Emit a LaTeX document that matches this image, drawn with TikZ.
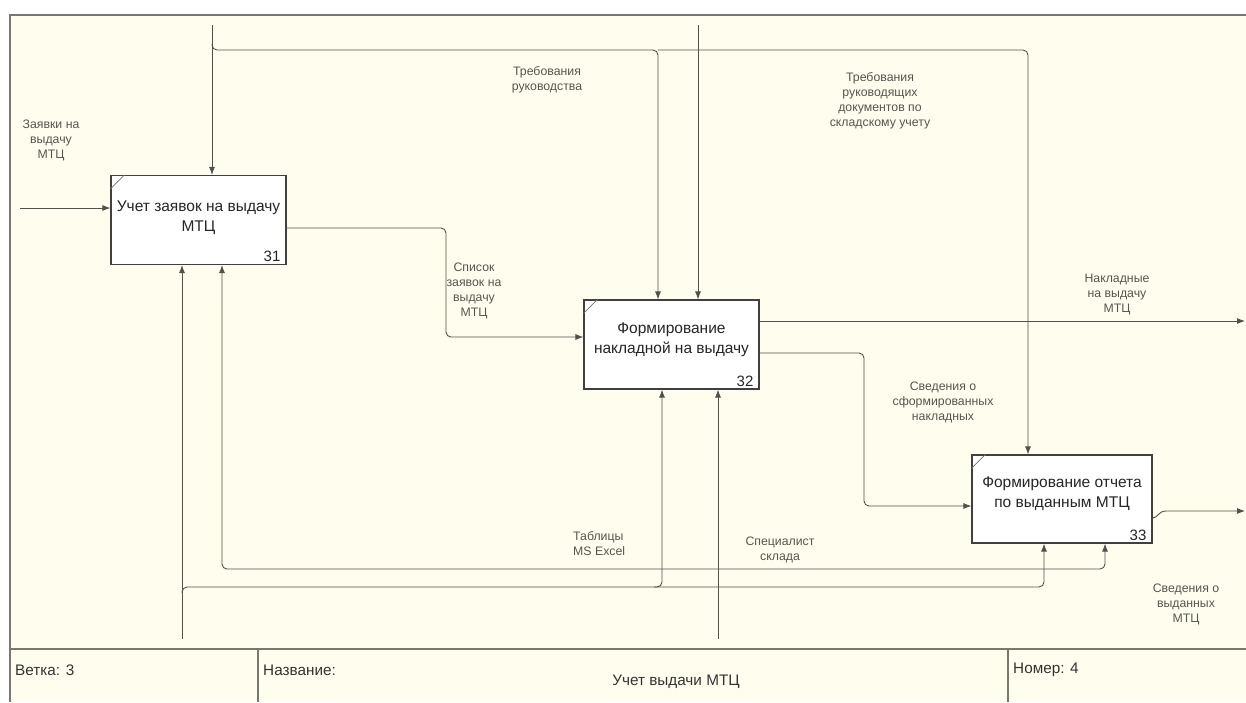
\documentclass[tikz,border=0pt]{standalone}
\usepackage{fontspec}
\setmainfont{Liberation Sans}
\usetikzlibrary{arrows.meta}
\definecolor{cream}{RGB}{255,254,238}
\definecolor{ln}{RGB}{80,80,76}
\definecolor{frm}{RGB}{120,120,110}
\definecolor{lbl}{RGB}{85,85,80}
\begin{document}
\begin{tikzpicture}[x=1pt,y=-1pt,
  conn/.style={draw=ln, line width=0.9pt},
  arr/.style={conn, -{Latex[length=8pt,width=6pt]}},
  rc/.style={rounded corners=5pt},
  box/.style={draw=black!75, fill=white, line width=1.1pt, minimum width=#1, minimum height=89pt, inner sep=0pt},
  btext/.style={align=center, text=black!85, font=\fontsize{15.5}{20}\selectfont, inner sep=0pt},
  num/.style={text=black!85, font=\fontsize{15}{16}\selectfont, inner sep=0pt, anchor=south east},
  lab/.style={align=center, text=lbl, font=\fontsize{12.3}{15}\selectfont, inner sep=0pt},
  ttl/.style={text=black!80, font=\fontsize{15.3}{17}\selectfont, inner sep=0pt, anchor=west},
  tick/.style={draw=black!55, line width=0.8pt}
]
\useasboundingbox (0,0) rectangle (1246,702);
\fill[white] (0,0) rectangle (1246,702);
\fill[cream] (10,15) rectangle (1246,702);
\draw[frm, line width=1.6pt] (10,702) -- (10,15) -- (1246,15);
% title block
\draw[frm, line width=1.2pt] (10,649) -- (1246,649);
\draw[frm, line width=1.2pt] (258,649) -- (258,702);
\draw[frm, line width=1.2pt] (1008,649) -- (1008,702);
\node[ttl] (tv) at (15,670) {Ветка: 3};
\node[ttl] (tn) at (263,670) {Название:};
\node[ttl, anchor=center] (tt) at (676,682) {Учет выдачи МТЦ};
\node[ttl] (tnum) at (1013,670) {Номер: 4};

% boxes
\node[box=175pt] (b31) at (198.5,220) {};
\node[box=175pt] (b32) at (671.5,344.5) {};
\node[box=180pt, minimum height=88pt] (b33) at (1062,499) {};
\node[btext] (t31) at ([yshift=2pt]b31.center) {Учет заявок на выдачу\\МТЦ};
\node[btext] (t32) at ([yshift=4.5pt]b32.center) {Формирование\\накладной на выдачу};
\node[btext] (t33) at ([yshift=5pt]b33.center) {Формирование отчета\\по выданным МТЦ};
\node[num] (n31) at ([xshift=-6pt,yshift=3pt]b31.south east) {31};
\node[num] (n32) at ([xshift=-6pt,yshift=3pt]b32.south east) {32};
\node[num] (n33) at ([xshift=-6pt,yshift=3pt]b33.south east) {33};
\draw[tick] (b31.north west) ++(0,14) -- ++(14,-14);
\draw[tick] (b32.north west) ++(0,14) -- ++(14,-14);
\draw[tick] (b33.north west) ++(0,14) -- ++(14,-14);

% input
\coordinate (in1) at (20,208);
\draw[arr] (in1) -- (in1 -| b31.west);

% controls
\coordinate (cA) at (212,25);
\coordinate (cB) at (698,25);
\draw[arr] (cA) -- (cA |- b31.north);
\draw[arr] (cB) -- (cB |- b32.north);
\coordinate (jA) at (212,50);
\coordinate (kA2) at (658,50);
\coordinate (kA3) at (1028,50);
\draw[arr,rc] ([yshift=6pt]jA) -- (jA) -- (kA2) -- (kA2 |- b32.north);
\draw[arr,rc] (kA2) -- (kA3) -- (kA3 |- b33.north);

% output 31 -> 32
\coordinate (o31) at (286,228);
\coordinate (t31c) at (446,228);
\coordinate (i32) at (584,337);
\draw[arr,rc] (o31 -| b31.east) -- (t31c) -- (t31c |- i32) -- (i32 -| b32.west);

% outputs of 32
\coordinate (oN) at (1245,321);
\draw[arr] (oN -| b32.east) -- (oN);
\coordinate (t32c) at (864,353);
\coordinate (i33) at (972,506);
\draw[arr,rc] (t32c -| b32.east) -- (t32c) -- (t32c |- i33) -- (i33 -| b33.west);

% output of 33
\coordinate (o33) at (1152,518);
\coordinate (oS) at (1245,511);
\draw[arr] (o33 -| b33.east) .. controls (1158,518) and (1158,511) .. (1166,511) -- (oS);

% mechanisms
\coordinate (m1) at (182,639);
\coordinate (m2) at (718,639);
\draw[arr] (m1) -- (m1 |- b31.south);
\draw[arr] (m2) -- (m2 |- b32.south);
\coordinate (h1) at (182,587);
\coordinate (k12) at (662,587);
\coordinate (k13) at (1044,587);
\draw[arr,rc] ([yshift=-6pt]h1) -- (h1) -- (k13) -- (k13 |- b33.south);
\draw[arr,rc] ([xshift=-8pt]k12) -- (k12) -- (k12 |- b32.south);
\coordinate (h2) at (718,569);
\coordinate (k21) at (222,569);
\coordinate (k23) at (1105,569);
\draw[arr,rc] (h2) -- (k21) -- (k21 |- b31.south);
\draw[arr,rc] (h2) -- (k23) -- (k23 |- b33.south);

% labels
\node[lab] (l1) at (51,140) {Заявки на\\выдачу\\МТЦ};
\node[lab] (l2) at (547,80) {Требования\\руководства};
\node[lab] (l3) at (880,101) {Требования\\руководящих\\документов по\\складскому учету};
\node[lab] (l4) at (474,291) {Список\\заявок на\\выдачу\\МТЦ};
\node[lab] (l5) at (1117,294) {Накладные\\на выдачу\\МТЦ};
\node[lab] (l6) at (943,402) {Сведения о\\сформированных\\накладных};
\node[lab, align=left, anchor=west] (l7) at (573,544) {Таблицы\\MS Excel};
\node[lab] (l8) at (780,550) {Специалист\\склада};
\node[lab] (l9) at (1186,604) {Сведения о\\выданных\\МТЦ};
\end{tikzpicture}
\end{document}
